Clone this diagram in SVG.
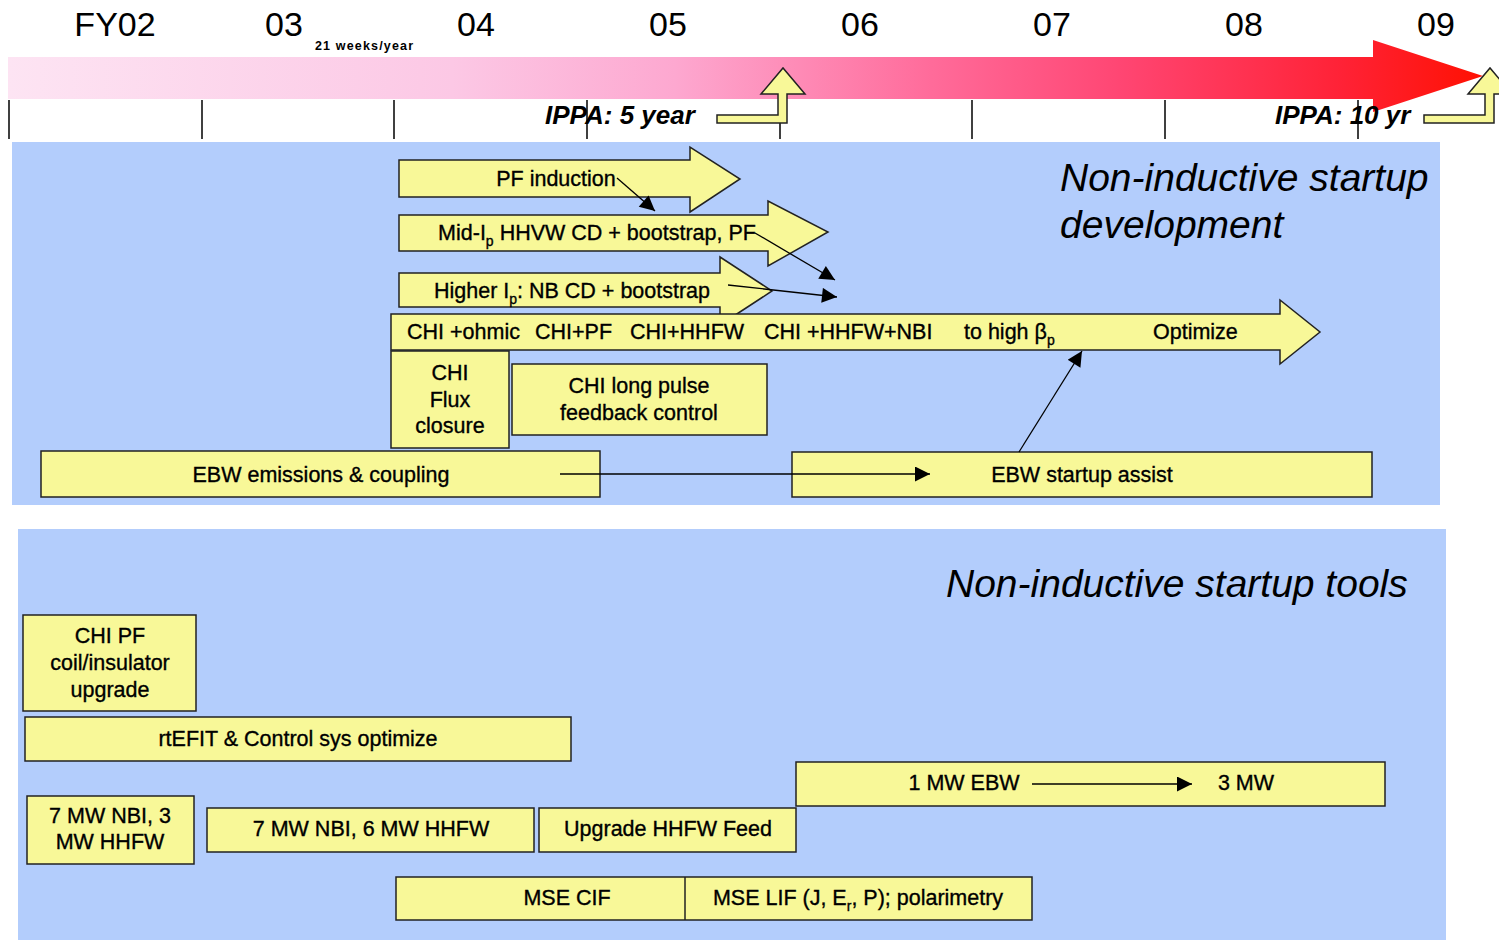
<svg xmlns="http://www.w3.org/2000/svg" width="1499" height="940" viewBox="0 0 1499 940">
<defs>
<linearGradient id="grad" gradientUnits="userSpaceOnUse" x1="8" y1="0" x2="1490" y2="0">
<stop offset="0" stop-color="#fde4f3"/>
<stop offset="0.3" stop-color="#fcc8e5"/>
<stop offset="0.45" stop-color="#fda8d0"/>
<stop offset="0.62" stop-color="#ff6c9b"/>
<stop offset="0.75" stop-color="#ff4673"/>
<stop offset="0.9" stop-color="#ff2236"/>
<stop offset="1" stop-color="#ff1000"/>
</linearGradient>
<marker id="ah" viewBox="0 0 10 10" refX="10" refY="5" markerWidth="19" markerHeight="15" markerUnits="userSpaceOnUse" orient="auto">
<path d="M0,0 L10,5 L0,10 Z" fill="#000"/>
</marker>
</defs>
<style>
.yr{font-family:"Liberation Sans",Arial,sans-serif;font-size:34px;fill:#000}
.ippa{font-family:"Liberation Sans",Arial,sans-serif;font-size:26px;font-weight:bold;font-style:italic;fill:#000}
.panel{fill:#b3cdfc}
.box{fill:#f8f898;stroke:#222;stroke-width:1.5}
.lbl{font-family:"Liberation Sans",Arial,sans-serif;font-size:21.5px;fill:#000;stroke:#000;stroke-width:0.35}
.ttl{font-family:"Liberation Sans",Arial,sans-serif;font-size:39px;font-style:italic;fill:#000}
.tick{stroke:#000;stroke-width:1.5}
.conn{stroke:#000;stroke-width:1.3;fill:none;marker-end:url(#ah)}
.c{text-anchor:middle}
</style>
<rect width="1499" height="940" fill="#fff"/>

<g id="timeline">
<text class="yr c" x="115" y="36">FY02</text>
<text class="yr c" x="284" y="36">03</text>
<text class="yr c" x="476" y="36">04</text>
<text class="yr c" x="668" y="36">05</text>
<text class="yr c" x="860" y="36">06</text>
<text class="yr c" x="1052" y="36">07</text>
<text class="yr c" x="1244" y="36">08</text>
<text class="yr c" x="1436" y="36">09</text>
<text x="315" y="50" font-family="'Liberation Sans',Arial,sans-serif" font-size="12.5" font-weight="bold" textLength="98">21 weeks/year</text>
<polygon points="8,57 1373,57 1373,40 1483,76 1373,112 1373,99 8,99" fill="url(#grad)"/>
<line class="tick" x1="9" y1="100" x2="9" y2="139"/>
<line class="tick" x1="202" y1="100" x2="202" y2="139"/>
<line class="tick" x1="394" y1="100" x2="394" y2="139"/>
<line class="tick" x1="587" y1="100" x2="587" y2="139"/>
<line class="tick" x1="780" y1="100" x2="780" y2="139"/>
<line class="tick" x1="972" y1="100" x2="972" y2="139"/>
<line class="tick" x1="1165" y1="100" x2="1165" y2="139"/>
<line class="tick" x1="1358" y1="100" x2="1358" y2="139"/>
</g>

<g id="ippa5">
<text class="ippa" x="545" y="124">IPPA: 5 year</text>
<polygon class="box" stroke-width="1.2" points="717,115 778,115 778,94 761,94 783,68 805,94 787,94 787,123 717,123"/>
</g>
<g id="ippa10">
<text class="ippa" x="1275" y="124">IPPA: 10 yr</text>
<polygon class="box" stroke-width="1.2" points="1424,115 1485,115 1485,94 1468,94 1490,68 1512,94 1494,94 1494,123 1424,123"/>
</g>

<rect class="panel" x="12" y="142" width="1428" height="363"/>
<rect class="panel" x="18" y="529" width="1428" height="411"/>

<g id="title-dev">
<text class="ttl" x="1060" y="191">Non-inductive startup</text>
<text class="ttl" x="1060" y="238">development</text>
</g>
<g id="title-tools">
<text class="ttl" x="946" y="597">Non-inductive startup tools</text>
</g>

<g id="pf-induction">
<polygon class="box" points="399,160 690,160 690,147 740,179 690,212 690,197 399,197"/>
<text class="lbl c" x="556" y="186">PF induction</text>
</g>
<g id="mid-ip">
<polygon class="box" points="399,215 768,215 768,201 828,232 768,266 768,251 399,251"/>
<text class="lbl c" x="597" y="240">Mid-I<tspan font-size="14" dy="6">p</tspan><tspan dy="-6"> HHVW CD + bootstrap, PF</tspan></text>
</g>
<g id="higher-ip">
<polygon class="box" points="399,273 720,273 720,257 772,291 720,325 720,307 399,307"/>
<text class="lbl c" x="572" y="298">Higher I<tspan font-size="14" dy="6">p</tspan><tspan dy="-6">: NB CD + bootstrap</tspan></text>
</g>
<g id="chi-track">
<polygon class="box" points="391,314 1280,314 1280,300 1320,332 1280,364 1280,350 391,350"/>
<text class="lbl" x="407" y="339">CHI +ohmic</text>
<text class="lbl" x="535" y="339">CHI+PF</text>
<text class="lbl" x="630" y="339">CHI+HHFW</text>
<text class="lbl" x="764" y="339">CHI +HHFW+NBI</text>
<text class="lbl" x="964" y="339">to high β<tspan font-size="14" dy="6">p</tspan></text>
<text class="lbl" x="1153" y="339">Optimize</text>
</g>
<g id="chi-flux">
<rect class="box" x="391" y="351" width="118" height="97"/>
<text class="lbl c" x="450" y="380">CHI</text>
<text class="lbl c" x="450" y="407">Flux</text>
<text class="lbl c" x="450" y="433">closure</text>
</g>
<g id="chi-long">
<rect class="box" x="512" y="364" width="255" height="71"/>
<text class="lbl c" x="639" y="393">CHI long pulse</text>
<text class="lbl c" x="639" y="420">feedback control</text>
</g>
<g id="ebw-emissions">
<rect class="box" x="41" y="451" width="559" height="46"/>
<text class="lbl c" x="321" y="482">EBW emissions &amp; coupling</text>
</g>
<g id="ebw-startup">
<rect class="box" x="792" y="452" width="580" height="45"/>
<text class="lbl c" x="1082" y="482">EBW startup assist</text>
</g>

<g id="chi-pf-coil">
<rect class="box" x="23" y="615" width="173" height="96"/>
<text class="lbl c" x="110" y="643">CHI PF</text>
<text class="lbl c" x="110" y="670">coil/insulator</text>
<text class="lbl c" x="110" y="697">upgrade</text>
</g>
<g id="rtefit">
<rect class="box" x="25" y="717" width="546" height="44"/>
<text class="lbl c" x="298" y="746">rtEFIT &amp; Control sys optimize</text>
</g>
<g id="nbi3">
<rect class="box" x="27" y="796" width="167" height="68"/>
<text class="lbl c" x="110" y="823">7 MW NBI, 3</text>
<text class="lbl c" x="110" y="849">MW HHFW</text>
</g>
<g id="nbi6">
<rect class="box" x="207" y="808" width="327" height="44"/>
<text class="lbl c" x="371" y="836">7 MW NBI, 6 MW HHFW</text>
</g>
<g id="hhfw-feed">
<rect class="box" x="539" y="808" width="257" height="44"/>
<text class="lbl c" x="668" y="836">Upgrade HHFW Feed</text>
</g>
<g id="ebw-power">
<rect class="box" x="796" y="762" width="589" height="44"/>
<text class="lbl c" x="964" y="790">1 MW EBW</text>
<text class="lbl c" x="1246" y="790">3 MW</text>
</g>
<g id="mse">
<rect class="box" x="396" y="877" width="636" height="43"/>
<line x1="685" y1="877" x2="685" y2="920" stroke="#222" stroke-width="1.5"/>
<text class="lbl c" x="567" y="905">MSE CIF</text>
<text class="lbl c" x="858" y="905">MSE LIF (J, E<tspan font-size="14" dy="6">r</tspan><tspan dy="-6">, P); polarimetry</tspan></text>
</g>

<g id="connectors">
<line class="conn" x1="617" y1="178" x2="655" y2="211"/>
<line class="conn" x1="755" y1="233" x2="835" y2="280"/>
<line class="conn" x1="728" y1="285" x2="837" y2="297"/>
<line class="conn" x1="560" y1="474" x2="930" y2="474"/>
<line class="conn" x1="1019" y1="452" x2="1082" y2="351"/>
<line class="conn" x1="1032" y1="784" x2="1192" y2="784"/>
</g>
</svg>
